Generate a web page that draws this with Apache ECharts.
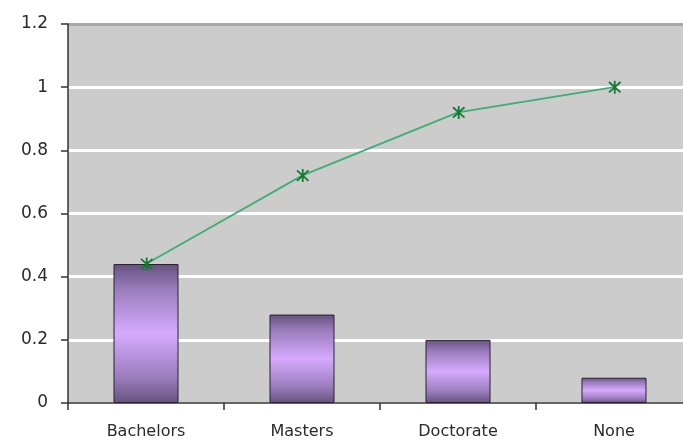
<!DOCTYPE html>
<html>
<head>
<meta charset="utf-8">
<script src="https://cdn.jsdelivr.net/npm/echarts@6/dist/echarts.min.js"></script>
<style>
  html, body { margin: 0; padding: 0; background: #fff; overflow: hidden; }
  #chart { width: 692px; height: 443px; }
</style>
</head>
<body>
<div id="chart"></div>
<script>
// Degree categories with share per category and running cumulative share
const categories = ['Bachelors', 'Masters', 'Doctorate', 'None'];
const shareValues = [0.44, 0.28, 0.20, 0.08];
const cumulativeValues = [0.44, 0.72, 0.92, 1.00];
const yTicks = [0, 0.2, 0.4, 0.6, 0.8, 1, 1.2];

const chart = echarts.init(document.getElementById('chart'), null, { renderer: 'canvas' });

const barFill = new echarts.graphic.LinearGradient(0, 0, 0, 1, [
  { offset: 0, color: '#66527f' },
  { offset: 0.18, color: '#9a7cbc' },
  { offset: 0.5, color: '#d6aaff' },
  { offset: 0.82, color: '#9a7cbc' },
  { offset: 1, color: '#66527f' }
]);

const asterisk = 'path://M5,0L5,10M1,1L9,9M1,9L9,1M0,5L0,5';
const labelFont = 'DejaVu Sans, Verdana, sans-serif';

chart.setOption({
  animation: false,
  grid: { left: 68, top: 24, right: 0, bottom: 40, backgroundColor: '#cccccc', show: true, borderWidth: 0 },
  xAxis: {
    type: 'category',
    data: categories,
    axisLine: { lineStyle: { color: '#333', width: 1.5 } },
    axisTick: { show: true, length: 7, alignWithLabel: false, lineStyle: { color: '#333', width: 1.5 } },
    axisLabel: { color: '#2a2a2a', fontFamily: labelFont, fontSize: 16, margin: 21 }
  },
  yAxis: {
    type: 'value',
    min: yTicks[0],
    max: yTicks[yTicks.length - 1],
    interval: 0.2,
    axisLine: { show: true, lineStyle: { color: '#333', width: 1.5 } },
    axisTick: { show: true, length: 7, lineStyle: { color: '#333', width: 1.5 } },
    axisLabel: {
      color: '#2a2a2a', fontFamily: labelFont, fontSize: 17, margin: 20,
      formatter: v => String(Math.round(v * 10) / 10)
    },
    splitLine: { show: true, lineStyle: { color: ['#ffffff', '#ffffff', '#ffffff', '#ffffff', '#ffffff', '#ffffff', '#a8a8a8'], width: 3 } }
  },
  series: [
    {
      type: 'bar',
      data: shareValues,
      barWidth: 65,
      itemStyle: { color: barFill, borderColor: '#2a2030', borderWidth: 1 }
    },
    {
      type: 'line',
      data: cumulativeValues,
      symbol: asterisk,
      symbolSize: 13,
      showSymbol: true,
      lineStyle: { color: '#3fae76', width: 1.8 },
      itemStyle: { color: 'rgba(0,0,0,0)', borderColor: '#137a33', borderWidth: 1.8 },
      z: 5
    }
  ]
});
</script>
</body>
</html>
